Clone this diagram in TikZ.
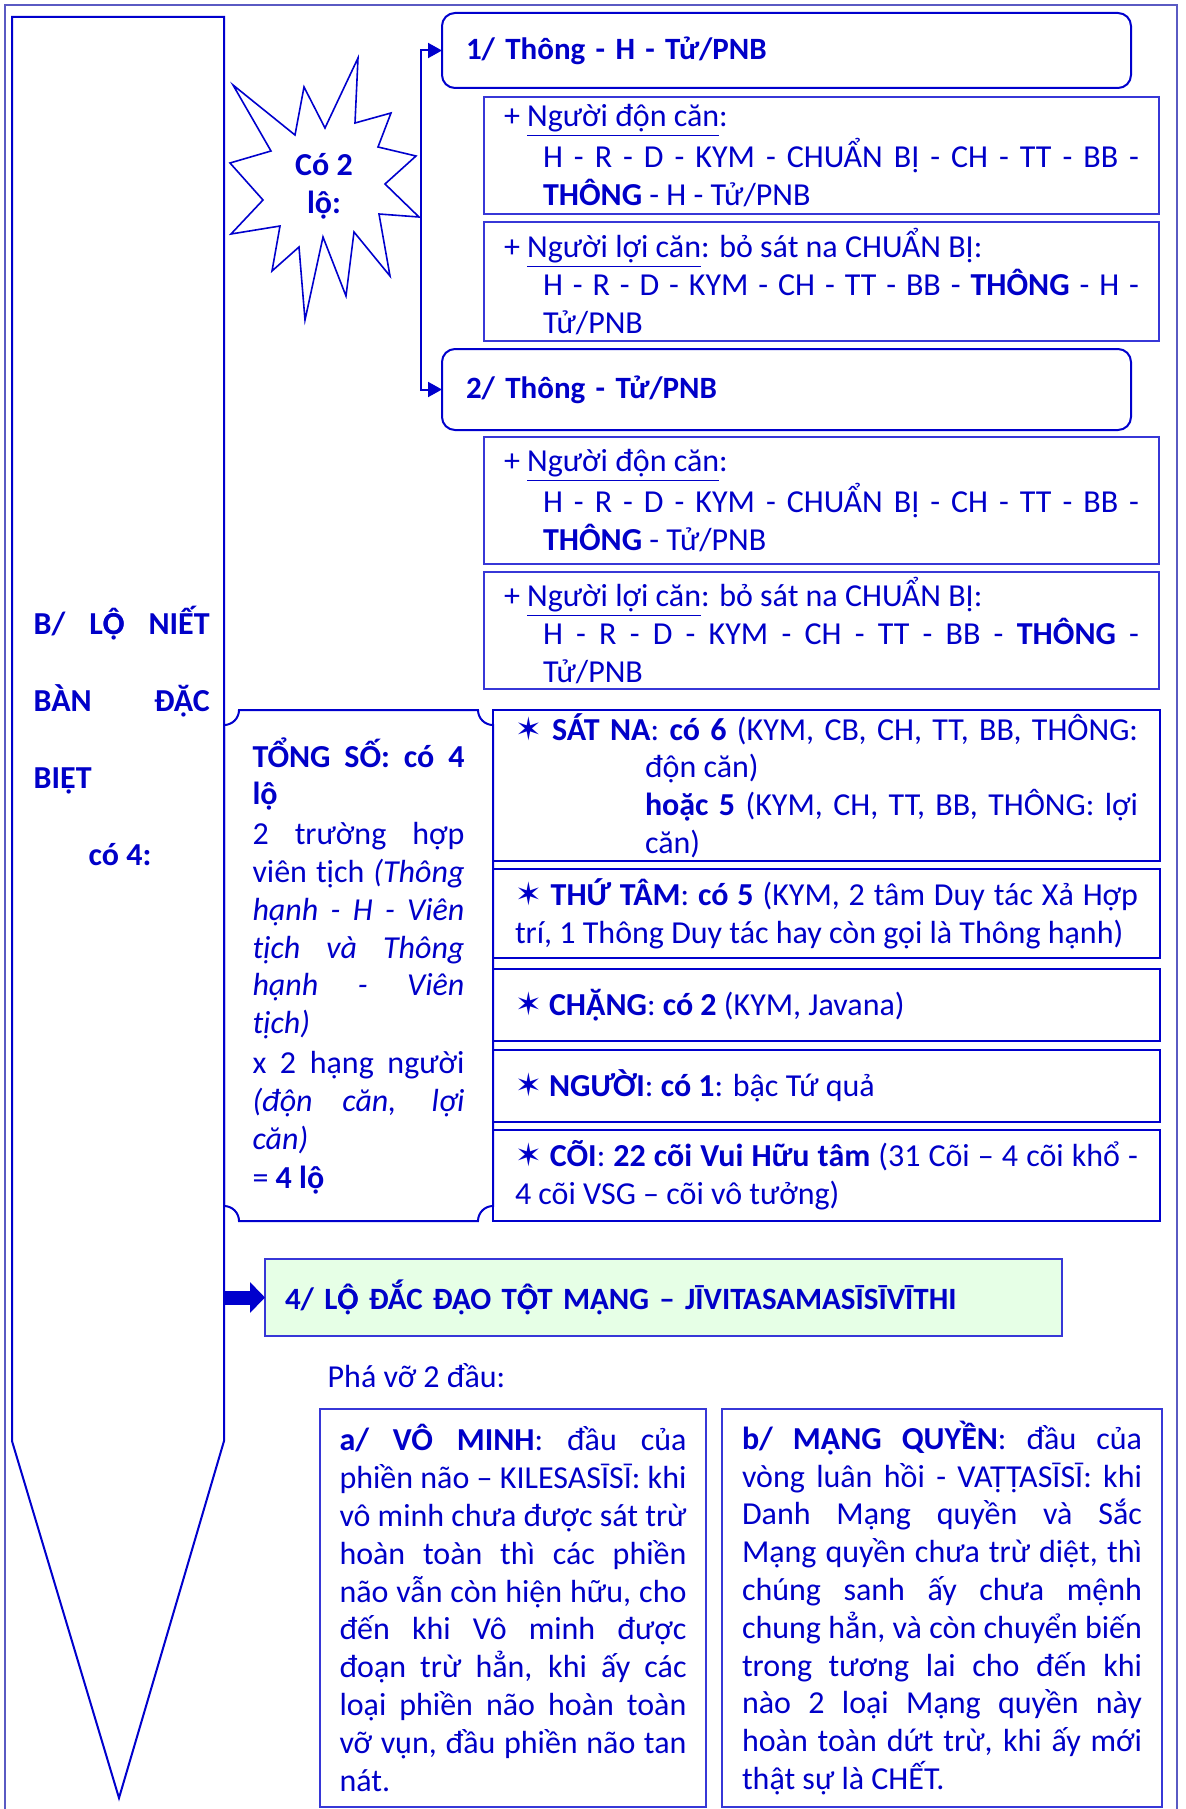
\documentclass[tikz,border=0pt]{standalone}
\usepackage{fontspec}
\setmainfont{Carlito}
\newfontfamily\symfont{DejaVu Sans}
\usetikzlibrary{arrows.meta}
\definecolor{inkblue}{RGB}{0,0,200}
\definecolor{lineblue}{RGB}{0,0,205}
\definecolor{thinblue}{RGB}{55,55,215}
\definecolor{framegray}{RGB}{90,90,195}
\definecolor{lightgreen}{RGB}{230,255,230}
\setlength{\parindent}{0pt}
\hyphenpenalty=10000 \exhyphenpenalty=10000
\tolerance=10000 \hbadness=10000
\newcommand{\sao}{{\symfont\bfseries ✶}}
\newcommand{\gach}[1]{\underline{#1}}
\newcommand{\Ocd}{\rlap{Ọ}Ô}
\begin{document}
\begin{tikzpicture}[x=0.5pt, y=-0.5pt,
  every node/.style={text=inkblue, font=\fontsize{16}{18.9}\selectfont, inner ysep=0pt, outer sep=0pt},
  headbox/.style={draw=lineblue, line width=1pt, rounded corners=6.5pt, anchor=north west, inner xsep=12pt, text width=320.5pt, align=left, font=\fontsize{15.5}{18.9}\selectfont\bfseries},
  pathbox/.style={draw=thinblue, line width=0.7pt, anchor=north west, inner xsep=10pt, text width=317.5pt, align=justify},
  countbox/.style={draw=lineblue, line width=1pt, anchor=north west, inner xsep=11pt, text width=311.5pt, align=justify},
  endbox/.style={draw=thinblue, line width=0.7pt, anchor=north west, minimum height=199pt, align=justify},
  forkline/.style={draw=lineblue, line width=1pt, -{Triangle[length=7pt,width=7.5pt]}},
  fatarrow/.style={draw=lineblue, line width=7pt, -{Triangle[length=7.5pt,width=15pt]}}]
  \useasboundingbox (0,0) rectangle (1185,1809);

  % 1. khung ngoai va mui ten lon ben trai
  \draw[framegray, line width=0.7pt] (5,5) rectangle (1177,1830);
  \draw[lineblue, line width=1pt] (12,17) -- (224,17) -- (224,1441) -- (119,1798) -- (12,1441) -- cycle;
  \node[anchor=base west, text width=88pt, align=justify, font=\fontsize{16}{38.5}\selectfont\bfseries] (title) at (27,634)
    {B/ L\Ocd{} NIẾT\linebreak BÀN ĐẶC\linebreak BIỆT\par\hspace*{27.5pt}có 4:};

  % 2. ngoi sao "Co 2 lo"
  \draw[lineblue, line width=0.8pt, fill=white] (358,58) -- (355,123) -- (391,113) -- (378,147) -- (416,156) -- (385,184)
    -- (419,217) -- (379,214) -- (390,276) -- (354,232) -- (346,296) -- (323,237) -- (305,320) -- (299,247)
    -- (272,271) -- (280,226) -- (231,234) -- (263,200) -- (230,163) -- (271,151) -- (233,85) -- (295,135)
    -- (304,87) -- (325,128) -- cycle;
  \node[align=center, font=\fontsize{16}{19}\selectfont\bfseries] (colo) at (324,186) {Có 2\\lộ:};
  \coordinate (fork) at (421,217);

  % 3. lo 1 va lo 2
  \node[headbox, minimum height=37.5pt] (box1) at (442,13) {1/ Thông - H - Tử/PNB};
  \node[pathbox, minimum height=58.5pt] (box1a) at (484,97)
    {\hangindent=19.5pt\hangafter=1 + \gach{Người độn căn}:\newline H - R - D - KYM - CHUẨN BỊ - CH - TT - BB -\linebreak \textbf{THÔNG} - H - Tử/PNB\par};
  \node[pathbox, minimum height=59.5pt] (box1b) at (484,222)
    {\hangindent=19.5pt\hangafter=1 + \gach{Người lợi căn}: bỏ sát na CHUẨN BỊ:\newline H - R - D - KYM - CH - TT - BB - \textbf{THÔNG} - H -\linebreak Tử/PNB\par};
  \node[headbox, minimum height=40.5pt] (box2) at (442,349) {2/ Thông - Tử/PNB};
  \node[pathbox, minimum height=63.5pt] (box2a) at (484,437)
    {\hangindent=19.5pt\hangafter=1 + \gach{Người độn căn}:\newline H - R - D - KYM - CHUẨN BỊ - CH - TT - BB -\linebreak \textbf{THÔNG} - Tử/PNB\par};
  \node[pathbox, minimum height=58.5pt] (box2b) at (484,572)
    {\hangindent=19.5pt\hangafter=1 + \gach{Người lợi căn}: bỏ sát na CHUẨN BỊ:\newline H - R - D - KYM - CH - TT - BB - \textbf{THÔNG} -\linebreak Tử/PNB\par};
  \draw[forkline] (fork) |- (box1.west);
  \draw[forkline] (fork) |- (box2.west);

  % 4. khung tong so (goc lom)
  \draw[lineblue, line width=1pt] (239,710) -- (478,710) arc[start angle=180, end angle=270, radius=7.5pt]
    -- (493,1206) arc[start angle=90, end angle=180, radius=7.5pt]
    -- (239,1221) arc[start angle=0, end angle=90, radius=7.5pt]
    -- (224,725) arc[start angle=-90, end angle=0, radius=7.5pt] -- cycle;
  \node[text width=106pt, align=justify] (tongso) at (358.5,966)
    {\setlength{\parskip}{1pt}\textbf{TỔNG SỐ: có 4}\linebreak \textbf{lộ}\par
     2 trường hợp\linebreak viên tịch \textit{(Thông\linebreak hạnh - H - Viên\linebreak tịch và Thông\linebreak hạnh - Viên\linebreak tịch)}\par
     x 2 hạng người\linebreak \textit{(độn căn, lợi\linebreak căn)}\par
     = \textbf{4 lộ}\par};

  % 5. sat na, thu tam, chang, nguoi, coi
  \node[countbox, minimum height=75.5pt] (satna) at (493,710)
    {\hangindent=65pt\hangafter=1 \sao\ \textbf{SÁT NA}: \textbf{có 6} (KYM, CB, CH, TT, BB, THÔNG:\linebreak độn căn)\newline \textbf{hoặc 5} (KYM, CH, TT, BB, THÔNG: lợi\linebreak căn)\par};
  \node[countbox, minimum height=44.5pt] (thutam) at (493,869)
    {\sao\ \textbf{THỨ TÂM}: \textbf{có 5} (KYM, 2 tâm Duy tác Xả Hợp\linebreak trí, 1 Thông Duy tác hay còn gọi là Thông hạnh)\par};
  \node[countbox, minimum height=36pt] (chang) at (493,969) {\sao\ \textbf{CHẶNG}: \textbf{có 2} (KYM, Javana)};
  \node[countbox, minimum height=36pt] (nguoi) at (493,1050) {\sao\ \textbf{NGƯỜI}: \textbf{có 1}: bậc Tứ quả};
  \node[countbox, minimum height=45.5pt] (coi) at (493,1130)
    {\sao\ \textbf{CÕI}: \textbf{22 cõi Vui Hữu tâm} (31 Cõi – 4 cõi khổ -\linebreak 4 cõi VSG – cõi vô tưởng)\par};

  % 6. lo dac dao tot mang
  \node[draw=thinblue, line width=0.7pt, fill=lightgreen, anchor=north west, inner xsep=10pt, text width=378.5pt,
    minimum height=38.5pt, align=left, font=\fontsize{15.5}{18.9}\selectfont\bfseries] (goal) at (265,1259)
    {4/ L\Ocd{} ĐẮC ĐẠO T\Ocd{}T MẠNG – JĪVITASAMASĪSĪVĪTHI};
  \coordinate (pentR) at (224,1297.5);
  \draw[fatarrow] (pentR) -- (goal.west);
  \node[anchor=base west] (phavo) at (321,1387) {Phá vỡ 2 đầu:};

  % 7. hai dau: vo minh va mang quyen
  \node[endbox, inner xsep=9.75pt, text width=173.5pt] (vominh) at (320,1409)
    {\textbf{a/ VÔ MINH}: đầu của\linebreak phiền não – KILESASĪSĪ: khi\linebreak vô minh chưa được sát trừ\linebreak hoàn toàn thì các phiền\linebreak não vẫn còn hiện hữu, cho\linebreak đến khi Vô minh được\linebreak đoạn trừ hẳn, khi ấy các\linebreak loại phiền não hoàn toàn\linebreak vỡ vụn, đầu phiền não tan\linebreak nát.\par};
  \node[endbox, inner xsep=10pt, text width=200pt] (mangquyen) at (722,1409)
    {\textbf{b/ MẠNG QUYỀN}: đầu của\linebreak vòng luân hồi - VAṬṬASĪSĪ: khi\linebreak Danh Mạng quyền và Sắc\linebreak Mạng quyền chưa trừ diệt, thì\linebreak chúng sanh ấy chưa mệnh\linebreak chung hẳn, và còn chuyển biến\linebreak trong tương lai cho đến khi\linebreak nào 2 loại Mạng quyền này\linebreak hoàn toàn dứt trừ, khi ấy mới\linebreak thật sự là CHẾT.\par};
\end{tikzpicture}
\end{document}
